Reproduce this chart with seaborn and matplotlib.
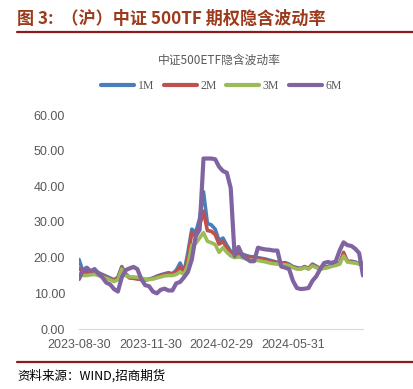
import pandas as pd
import seaborn as sns
import matplotlib.pyplot as plt
from matplotlib.lines import Line2D

# one sample every 5 calendar days, 2023-08-30 .. 2024-08-29
dates = pd.date_range("2023-08-30", "2024-08-29", freq="5D")

iv_1m = [19.5, 16.2, 16.0, 16.2, 16.5, 15.8, 15.3, 14.8, 14.3, 13.8,
         14.5, 17.5, 15.5, 14.5, 14.3, 14.2, 14.0, 13.8, 14.0, 14.3,
         14.8, 15.2, 15.5, 15.8, 15.5, 16.5, 18.5, 16.0, 21.5, 28.0,
         27.0, 31.0, 38.5, 29.6, 29.2, 28.0, 24.8, 25.5, 23.5, 21.8,
         21.3, 21.2, 21.0, 20.6, 20.3, 20.2, 20.0, 19.8, 19.6, 19.3,
         19.0, 18.7, 18.5, 18.6, 18.2, 17.5, 17.2, 17.0, 17.5, 17.0,
         18.2, 17.6, 17.0, 17.4, 17.5, 18.0, 18.2, 18.5, 21.0, 19.0,
         19.0, 18.8, 18.4, 18.5]
iv_2m = [17.0, 16.0, 15.8, 16.0, 16.2, 15.5, 15.0, 14.5, 14.0, 13.6,
         14.2, 17.2, 15.2, 14.3, 14.2, 14.0, 13.9, 13.8, 13.9, 14.2,
         14.6, 15.0, 15.3, 15.5, 15.3, 16.0, 17.5, 15.7, 20.0, 27.0,
         26.0, 29.0, 33.0, 27.6, 27.4, 26.5, 23.8, 24.5, 22.8, 21.3,
         20.8, 20.8, 20.6, 20.3, 20.0, 19.9, 19.8, 19.5, 19.4, 19.0,
         18.8, 18.5, 18.3, 18.4, 18.0, 17.4, 17.0, 16.9, 17.4, 16.9,
         18.0, 17.4, 16.8, 17.2, 17.3, 17.8, 18.0, 18.3, 21.5, 18.9,
         18.8, 18.6, 18.3, 18.3]
iv_3m = [15.5, 15.0, 15.0, 15.2, 15.3, 15.0, 14.6, 14.2, 13.8, 13.3,
         13.8, 16.8, 15.0, 14.6, 14.6, 14.5, 14.3, 14.0, 13.9, 14.0,
         14.3, 14.6, 14.9, 15.0, 15.0, 15.3, 16.0, 15.3, 18.0, 23.5,
         24.0, 25.5, 27.0, 24.6, 24.2, 23.7, 21.5, 22.8, 21.5, 20.5,
         20.0, 20.2, 20.0, 19.6, 19.4, 19.3, 19.2, 19.0, 18.8, 18.5,
         18.3, 18.2, 18.0, 18.0, 17.8, 17.2, 16.8, 16.8, 17.2, 16.8,
         17.7, 17.2, 16.8, 17.0, 17.2, 17.6, 17.8, 18.2, 20.5, 18.8,
         18.6, 18.5, 18.2, 18.3]
iv_6m = [14.0, 16.5, 17.2, 16.2, 16.8, 15.5, 14.5, 13.0, 12.5, 11.2,
         10.5, 14.5, 16.5, 17.0, 17.4, 16.8, 14.0, 12.3, 12.0, 10.5,
         10.0, 11.0, 11.3, 10.8, 10.8, 12.8, 13.2, 14.5, 16.0, 19.5,
         26.0, 27.8, 47.8, 47.8, 47.8, 47.6, 45.5, 44.3, 43.8, 39.5,
         20.5, 23.0, 20.5, 19.8, 19.0, 19.0, 22.8, 22.5, 22.3, 22.2,
         22.0, 22.0, 17.5, 17.2, 16.8, 13.5, 11.5, 11.2, 11.3, 11.5,
         13.5, 14.8, 16.8, 18.5, 18.8, 18.5, 19.0, 22.0, 24.3, 23.5,
         23.3, 22.5, 21.3, 15.0]

series_names = ["1M", "2M", "3M", "6M"]
colors = ["#4A7EBB", "#C0504D", "#9BBB59", "#8064A2"]
tick_dates = ["2023-08-30", "2023-11-30", "2024-02-29", "2024-05-31"]

df = pd.concat([
    pd.DataFrame({"date": dates, "iv": vals, "term": name})
    for name, vals in zip(series_names, [iv_1m, iv_2m, iv_3m, iv_6m])
])

sns.set_style("white")
plt.rcParams["font.family"] = ["Liberation Sans", "Noto Sans CJK SC", "DejaVu Sans"]

fig = plt.figure(figsize=(4.14, 3.89), dpi=100)
ax = fig.add_axes([79 / 414, 1 - 329 / 389, (363 - 79) / 414, (329 - 115) / 389])

for name, c in zip(series_names, colors):
    sub = df[df["term"] == name]
    sns.lineplot(data=sub, x="date", y="iv", color=c,
                 linewidth=3.0 if name == "6M" else 2.6, ax=ax)

ax.set_xlim(dates[0], dates[-1])
ax.set_ylim(0, 60)
ax.set_yticks(range(0, 61, 10))
ax.set_yticklabels([f"{v:.2f}" for v in range(0, 61, 10)])
ax.set_xticks(pd.to_datetime(tick_dates))
ax.set_xticklabels(tick_dates)
ax.set_xlabel("")
ax.set_ylabel("")
for s in ["top", "right", "left"]:
    ax.spines[s].set_visible(False)
ax.spines["bottom"].set_color("#D9D9D9")
ax.tick_params(axis="x", colors="#D9D9D9", length=4, direction="out",
               labelcolor="#595959", labelsize=9, pad=3)
ax.tick_params(axis="y", length=0, labelcolor="#595959", labelsize=9, pad=10)
ax.grid(False)

# legend
handles = [Line2D([0], [0], color=c, lw=3) for c in colors]
fig.legend(handles, series_names, loc="center", bbox_to_anchor=(0.535, 1 - 86 / 389),
           ncol=4, frameon=False, handlelength=2.8, columnspacing=0.8,
           handletextpad=0.3, prop={"family": "Liberation Serif", "size": 8.5},
           labelcolor="#595959")

# chart subtitle
fig.text(0.53, 1 - 60 / 389, "中证500ETF隐含波动率", ha="center", va="center",
         fontsize=8.5, color="#595959", family=["Noto Sans CJK SC"])

# report header / footer
fig.text(17 / 414, 1 - 19 / 389, "图 3:  （沪）中证 500TF 期权隐含波动率", ha="left",
         va="center", fontsize=12.3, fontweight="bold", color="#9C3A1C",
         family=["Noto Sans CJK SC"])
fig.add_artist(Line2D([17 / 414, 1], [1 - 32 / 389] * 2, color="#8B1A1A", lw=1.6))
fig.add_artist(Line2D([17 / 414, 1], [1 - 362 / 389] * 2, color="#8B1A1A", lw=1.6))
fig.text(17 / 414, 1 - 376 / 389, "资料来源：WIND,招商期货", ha="left", va="center",
         fontsize=9, color="#000000", family=["Noto Sans CJK SC"])

fig.savefig("out.png", dpi=100)
